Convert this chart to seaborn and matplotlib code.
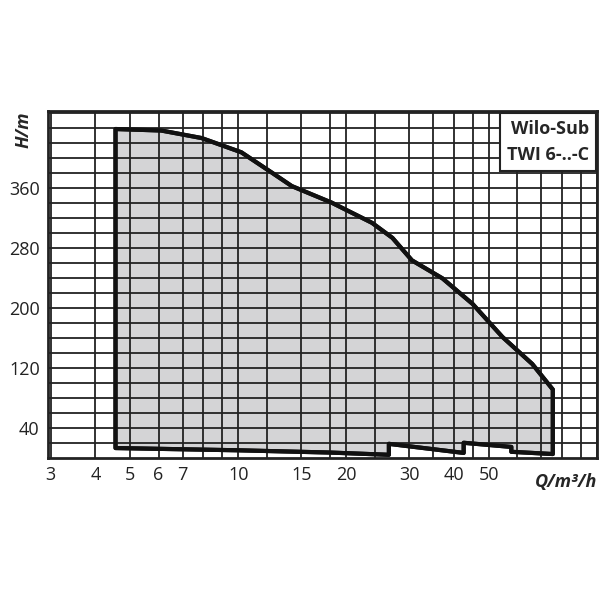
import matplotlib
matplotlib.use("Agg")
import matplotlib.pyplot as plt
import seaborn as sns
import numpy as np
from matplotlib.ticker import FixedLocator, NullLocator

sns.set_theme(style="white")
plt.rcParams['font.family'] = ['Open Sans', 'DejaVu Sans']

# envelope polygon (Q m3/h, H m)
q_env = [4.55, 4.55, 6.1, 7.9, 10.2, 12.4, 14.1, 18.2, 23.6, 26.9, 30.5, 37.1, 45.0, 54.5, 66.0, 75.3,
         75.3, 57.7, 57.7, 42.5, 42.5, 26.3, 26.3, 18.0, 10.0, 4.55]
h_env = [13, 438, 436, 426, 407, 380, 362, 340, 313, 293, 263, 239, 205, 161, 125, 91,
         5, 8, 14.5, 20, 6.5, 18.6, 4, 7, 10, 13]

x_grid = [3, 4, 5, 6, 7, 8, 9, 10, 12, 15, 18, 20, 24, 30, 35, 40, 45, 50, 60, 70, 80, 90, 100]
x_ticks = [3, 4, 5, 6, 7, 10, 15, 20, 30, 40, 50]
y_ticks = [40, 120, 200, 280, 360]

fig, ax = plt.subplots(figsize=(6, 6), dpi=100)
fig.subplots_adjust(left=0.08, right=0.995, bottom=0.237, top=0.815)
ax.fill(q_env, h_env, facecolor="#d4d4d6", edgecolor="#111111", lw=3, zorder=1, joinstyle="round")
ax.set_xscale("log")
ax.set_xlim(2.95, 100)
ax.set_ylim(0, 462)
for x in x_grid:
    ax.axvline(x, color="#222222", lw=1.3, zorder=2)
for y in range(20, 461, 20):
    ax.axhline(y, color="#222222", lw=1.3, zorder=2)
ax.fill(q_env, h_env, facecolor="none", edgecolor="#111111", lw=3, zorder=3, joinstyle="round")
ax.xaxis.set_major_locator(FixedLocator(x_ticks))
ax.xaxis.set_minor_locator(NullLocator())
ax.set_xticklabels([str(t) for t in x_ticks])
ax.set_yticks(y_ticks)
ax.tick_params(labelsize=13, length=0, pad=6, colors="#222222")
for s in ax.spines.values():
    s.set_color("#222222"); s.set_linewidth(2)
ax.text(-0.045, 1.0, "H/m", transform=ax.transAxes, rotation=90, fontsize=13,
        fontweight="bold", fontstyle="italic", ha="center", va="top")
ax.text(1.0, -0.07, "Q/m³/h", transform=ax.transAxes, fontsize=13,
        fontweight="bold", fontstyle="italic", ha="right", va="center",
        bbox=dict(facecolor="white", edgecolor="none", pad=1))
ax.text(0.985, 0.975, "Wilo-Sub\nTWI 6-..-C", transform=ax.transAxes, fontsize=13,
        fontweight="bold", ha="right", va="top", linespacing=1.6, zorder=5,
        bbox=dict(facecolor="white", edgecolor="#222222", lw=1.5, pad=5))
fig.savefig("out.png")
